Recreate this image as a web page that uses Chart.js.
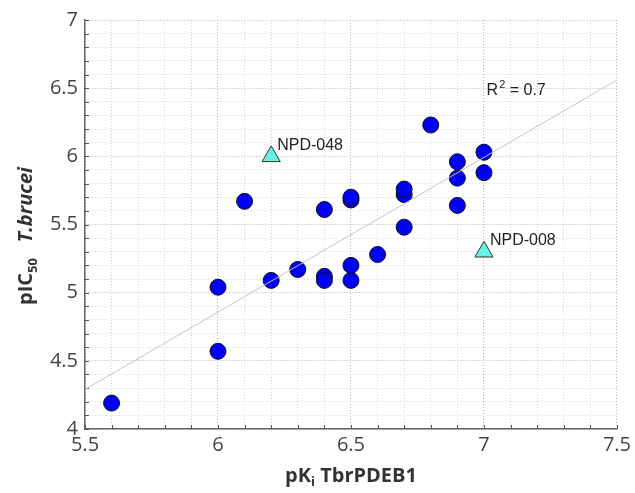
<!DOCTYPE html>
<html><head><meta charset="utf-8">
<script src="https://cdn.jsdelivr.net/npm/chart.js@4.4.0/dist/chart.umd.min.js"></script>
<style>html,body{margin:0;padding:0;background:#fff}#wrap{width:635px;height:493px}</style>
</head><body><div id="wrap"><canvas id="c" width="635" height="493"></canvas></div>
<script>
// ---- data ----
const compoundX = [5.6, 6.0, 6.0, 6.1, 6.2, 6.3, 6.4, 6.4, 6.4, 6.5, 6.5, 6.5, 6.5, 6.6, 6.7, 6.7, 6.7, 6.8, 6.9, 6.9, 6.9, 7.0, 7.0];
const compoundY = [4.19, 4.57, 5.04, 5.67, 5.09, 5.17, 5.12, 5.09, 5.61, 5.09, 5.20, 5.68, 5.70, 5.28, 5.48, 5.72, 5.76, 6.23, 5.64, 5.84, 5.96, 5.88, 6.03];
const outlierNames = ['NPD-048', 'NPD-008'];
const outlierX = [6.2, 7.0];
const outlierY = [6.0, 5.3];
const fitX = [5.5, 7.5];
const fitY = [4.29, 6.56];
const xTickLabels = ['5.5', '6', '6.5', '7', '7.5'];
const yTickLabels = ['4', '4.5', '5', '5.5', '6', '6.5', '7'];
const r2Value = '0.7';

const toPts = (xs, ys) => xs.map((x, i) => ({x: x, y: ys[i]}));
const isMajor = v => Math.abs(v * 2 - Math.round(v * 2)) < 1e-6;
const fmt = v => String(+v.toFixed(1));

const TICK_FONT = {family: '"Open Sans", sans-serif', size: 20};

const overlay = {
  id: 'overlay',
  beforeDatasetsDraw(chart) {
    const {ctx, chartArea: a, scales: {x, y}} = chart;
    ctx.save();
    ctx.strokeStyle = '#555';
    ctx.lineWidth = 1;
    ctx.beginPath();
    y.ticks.forEach(t => {
      const py = Math.round(y.getPixelForValue(t.value)) + 0.5;
      ctx.moveTo(a.left, py); ctx.lineTo(a.left + 4, py);
    });
    x.ticks.forEach(t => {
      const px = Math.round(x.getPixelForValue(t.value)) + 0.5;
      ctx.moveTo(px, a.bottom); ctx.lineTo(px, a.bottom - 4);
    });
    ctx.stroke();
    ctx.restore();
  },
  afterDraw(chart) {
    const {ctx, chartArea: a, scales: {x, y}} = chart;
    ctx.save();
    // outlier labels
    ctx.fillStyle = '#222';
    ctx.font = '16px "Liberation Sans", Arial, sans-serif';
    ctx.textBaseline = 'middle';
    ctx.textAlign = 'left';
    const meta = chart.getDatasetMeta(2);
    meta.data.forEach((el, i) => {
      ctx.fillText(outlierNames[i], el.x + 6, el.y - 11);
    });
    // R^2
    let rx = x.getPixelForValue(7.01), ry = y.getPixelForValue(6.48);
    ctx.fillText('R', rx, ry);
    rx += ctx.measureText('R').width + 1;
    ctx.font = '11px "Liberation Sans", Arial, sans-serif';
    ctx.fillText('2', rx, ry - 6);
    rx += ctx.measureText('2').width;
    ctx.font = '16px "Liberation Sans", Arial, sans-serif';
    ctx.fillText(' = ' + r2Value, rx, ry);

    // x title
    const bold = '700 20px "Open Sans", sans-serif';
    const sub = '700 13px "Open Sans", sans-serif';
    ctx.fillStyle = '#333';
    ctx.textBaseline = 'alphabetic';
    ctx.font = bold; const w1 = ctx.measureText('pK').width;
    ctx.font = sub; const w2 = ctx.measureText('i').width;
    ctx.font = bold; const w3 = ctx.measureText(' TbrPDEB1').width;
    let tx = (a.left + a.right) / 2 - (w1 + w2 + w3) / 2;
    const ty = 482;
    ctx.font = bold; ctx.fillText('pK', tx, ty); tx += w1;
    ctx.font = sub; ctx.fillText('i', tx, ty + 4); tx += w2;
    ctx.font = bold; ctx.fillText(' TbrPDEB1', tx, ty);

    // y title (rotated)
    ctx.translate(32, 236);
    ctx.rotate(-Math.PI / 2);
    const ital = 'italic 700 20px "Open Sans", sans-serif';
    ctx.font = bold; const v1 = ctx.measureText('pIC').width;
    ctx.font = sub; const v2 = ctx.measureText('50').width;
    ctx.font = bold; const v3 = ctx.measureText('   ').width;
    ctx.font = ital; const v4 = ctx.measureText('T.brucei').width;
    let sx = -(v1 + v2 + v3 + v4) / 2;
    ctx.font = bold; ctx.fillText('pIC', sx, 0); sx += v1;
    ctx.font = sub; ctx.fillText('50', sx, 5); sx += v2 + v3;
    ctx.font = ital; ctx.fillText('T.brucei', sx, 0);
    ctx.restore();
  }
};

new Chart(document.getElementById('c'), {
  type: 'scatter',
  data: {
    datasets: [
      {
        data: toPts(fitX, fitY), showLine: true, pointRadius: 0,
        borderColor: '#c4c4c4', borderWidth: 1, order: 0
      },
      {
        data: toPts(compoundX, compoundY), pointRadius: 8, pointHoverRadius: 8,
        backgroundColor: '#0000f5', borderColor: '#111', borderWidth: 1, order: 1
      },
      {
        data: toPts(outlierX, outlierY), pointStyle: 'triangle', pointRadius: 10.5, pointHoverRadius: 10.5,
        backgroundColor: '#66f2e6', borderColor: '#333', borderWidth: 1, order: 1
      }
    ]
  },
  options: {
    responsive: false, animation: false, devicePixelRatio: 1,
    layout: {padding: {top: 20, right: 15, left: 0, bottom: 0}},
    plugins: {legend: {display: false}, tooltip: {enabled: false}},
    scales: {
      x: {
        type: 'linear', min: 5.5, max: 7.5,
        afterFit(s) { s.height = 64; },
        ticks: {
          stepSize: 0.1, autoSkip: false, maxRotation: 0, padding: 4,
          font: TICK_FONT, color: '#444',
          callback: v => { const s = fmt(v); return xTickLabels.includes(s) ? s : ''; }
        },
        grid: {
          drawTicks: false, lineWidth: 1,
          color: c => isMajor(c.tick.value) ? '#b4b4b4' : '#d4d4d4'
        },
        border: {display: true, color: '#666', width: 1.5, dash: [1, 2]}
      },
      y: {
        type: 'linear', min: 4, max: 7,
        afterFit(s) { s.width = 85; },
        ticks: {
          stepSize: 0.1, autoSkip: false, padding: 7,
          font: TICK_FONT, color: '#444',
          callback: v => { const s = fmt(v); return yTickLabels.includes(s) ? s : ''; }
        },
        grid: {
          drawTicks: false, lineWidth: 1,
          color: c => isMajor(c.tick.value) ? '#b4b4b4' : '#d4d4d4'
        },
        border: {display: true, color: '#666', width: 1.5, dash: [1, 2]}
      }
    }
  },
  plugins: [overlay]
});
</script>
</body></html>
